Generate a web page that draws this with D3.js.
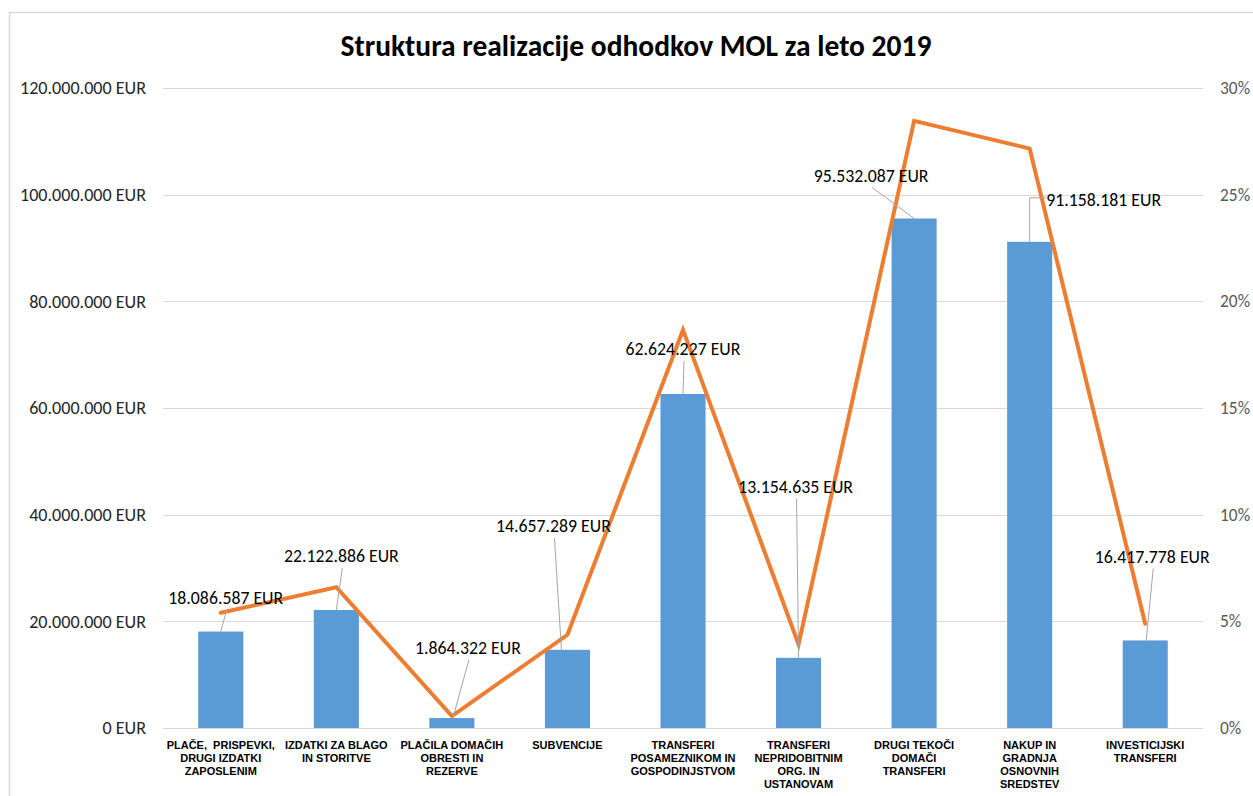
<!DOCTYPE html>
<html>
<head>
<meta charset="utf-8">
<script src="https://cdn.jsdelivr.net/npm/d3@7"></script>
<style>
  html, body { margin: 0; padding: 0; background: #fff; }
  svg { display: block; }
</style>
</head>
<body>
<svg id="chart" width="1253" height="796"></svg>
<script>
// ---- data ----
const categories = [
  ["PLAČE,  PRISPEVKI,", "DRUGI IZDATKI", "ZAPOSLENIM"],
  ["IZDATKI ZA BLAGO", "IN STORITVE"],
  ["PLAČILA DOMAČIH", "OBRESTI IN", "REZERVE"],
  ["SUBVENCIJE"],
  ["TRANSFERI", "POSAMEZNIKOM IN", "GOSPODINJSTVOM"],
  ["TRANSFERI", "NEPRIDOBITNIM", "ORG. IN", "USTANOVAM"],
  ["DRUGI TEKOČI", "DOMAČI", "TRANSFERI"],
  ["NAKUP IN", "GRADNJA", "OSNOVNIH", "SREDSTEV"],
  ["INVESTICIJSKI", "TRANSFERI"]
];
const amounts = [18086587, 22122886, 1864322, 14657289, 62624227, 13154635, 95532087, 91158181, 16417778];
const shares = [5.40, 6.60, 0.56, 4.37, 18.66, 3.92, 28.46, 27.16, 4.89];
const leftTicks = [0, 20000000, 40000000, 60000000, 80000000, 100000000, 120000000];
const rightTicks = [0, 5, 10, 15, 20, 25, 30];
const title = "Struktura realizacije odhodkov MOL za leto 2019";

// ---- label layout (offsets relative to bar centre / bar top) ----
const labelLayout = [
  {dx: 5,   dy: -34, ex: 0,   elbow: false},
  {dx: 5,   dy: -54, ex: 0,   elbow: false},
  {dx: 16,  dy: -70, ex: 1,   elbow: false},
  {dx: -14, dy: -124, ex: -6, elbow: false},
  {dx: 0,   dy: -45, ex: 0,   elbow: false},
  {dx: -3,  dy: -171, ex: 0,  elbow: false},
  {dx: -43, dy: -43, ex: 0,   elbow: false},
  {dx: 74,  dy: -42, ex: 0,   elbow: true},
  {dx: 7,   dy: -84, ex: 1,   elbow: false}
];

const fmt = n => d3.format(",")(n).replace(/,/g, ".");
const CAL = "Carlito, Calibri, 'Liberation Sans', Arial, sans-serif";

const svg = d3.select("#chart");
const margin = {left: 163, right: 1203, top: 88, bottom: 728};

// chart border
svg.append("rect")
  .attr("x", 9.5).attr("y", 12.5)
  .attr("width", 1300).attr("height", 900)
  .attr("fill", "none").attr("stroke", "#D9D9D9").attr("stroke-width", 1.5);

const x = d3.scaleBand().domain(d3.range(categories.length))
  .range([margin.left, margin.right]).paddingInner(0.61).paddingOuter(0.305);
const yL = d3.scaleLinear().domain([0, 120000000]).range([margin.bottom, margin.top]);
const yR = d3.scaleLinear().domain([0, 30]).range([margin.bottom, margin.top]);
const cx = i => x(i) + x.bandwidth() / 2;

// title
svg.append("text")
  .attr("x", 636).attr("y", 56)
  .attr("text-anchor", "middle")
  .attr("font-family", CAL)
  .attr("font-weight", "bold").attr("font-size", 29.5)
  .attr("fill", "#000")
  .text(title);

// gridlines
svg.append("g").selectAll("line").data(leftTicks).join("line")
  .attr("x1", margin.left).attr("x2", margin.right)
  .attr("y1", d => Math.round(yL(d)) + 0.5).attr("y2", d => Math.round(yL(d)) + 0.5)
  .attr("stroke", "#D9D9D9").attr("stroke-width", 1.2);

// left axis
const axisL = d3.axisLeft(yL).tickValues(leftTicks).tickSize(0).tickPadding(0)
  .tickFormat(d => fmt(d) + " EUR");
const gL = svg.append("g").attr("transform", `translate(146,0)`).call(axisL);
gL.select(".domain").remove();
gL.selectAll("text").attr("font-family", CAL)
  .attr("font-size", 18.1).attr("fill", "#262626");

// right axis
const axisR = d3.axisRight(yR).tickValues(rightTicks).tickSize(0).tickPadding(0)
  .tickFormat(d => d + "%");
const gR = svg.append("g").attr("transform", `translate(1220,0)`).call(axisR);
gR.select(".domain").remove();
gR.selectAll("text").attr("font-family", CAL)
  .attr("font-size", 17.4).attr("fill", "#595959");

// bars
svg.append("g").selectAll("rect").data(amounts).join("rect")
  .attr("x", (d, i) => x(i)).attr("width", x.bandwidth())
  .attr("y", d => yL(d)).attr("height", d => yL(0) - yL(d))
  .attr("fill", "#5B9BD5");

// line
const line = d3.line().x((d, i) => cx(i)).y(d => yR(d));
svg.append("path").datum(shares)
  .attr("d", line).attr("fill", "none")
  .attr("stroke", "#ED7D31").attr("stroke-width", 4)
  .attr("stroke-linejoin", "miter").attr("stroke-linecap", "round");

// category labels
const gC = svg.append("g");
categories.forEach((lines, i) => {
  const t = gC.append("text")
    .attr("x", cx(i)).attr("y", 749)
    .attr("text-anchor", "middle")
    .attr("font-family", "'Liberation Sans', Arial, sans-serif")
    .attr("font-weight", "bold").attr("font-size", 11)
    .attr("fill", "#000");
  lines.forEach((l, k) => {
    t.append("tspan").attr("x", cx(i)).attr("dy", k === 0 ? 0 : 13)
      .attr("xml:space", "preserve").text(l);
  });
});

// data labels with leader lines
const gD = svg.append("g");
amounts.forEach((v, i) => {
  const L = labelLayout[i];
  const bx = cx(i), by = yL(v);
  const lx = bx + L.dx, ly = by + L.dy;
  const txt = gD.append("text")
    .attr("x", lx).attr("y", ly).attr("dy", "0.35em")
    .attr("text-anchor", "middle")
    .attr("font-family", CAL)
    .attr("font-size", 17.8).attr("fill", "#000")
    .text(fmt(v) + " EUR");
  let path;
  if (L.elbow) {
    const w = txt.node().getComputedTextLength();
    const sx = lx - w / 2;
    path = `M${sx},${ly - 2}H${bx + L.ex}V${by}`;
  } else {
    path = `M${lx + 1},${ly + 12}L${bx + L.ex},${by}`;
  }
  gD.insert("path", "text").attr("d", path).attr("fill", "none")
    .attr("stroke", "#A6A6A6").attr("stroke-width", 1);
});
</script>
</body>
</html>
